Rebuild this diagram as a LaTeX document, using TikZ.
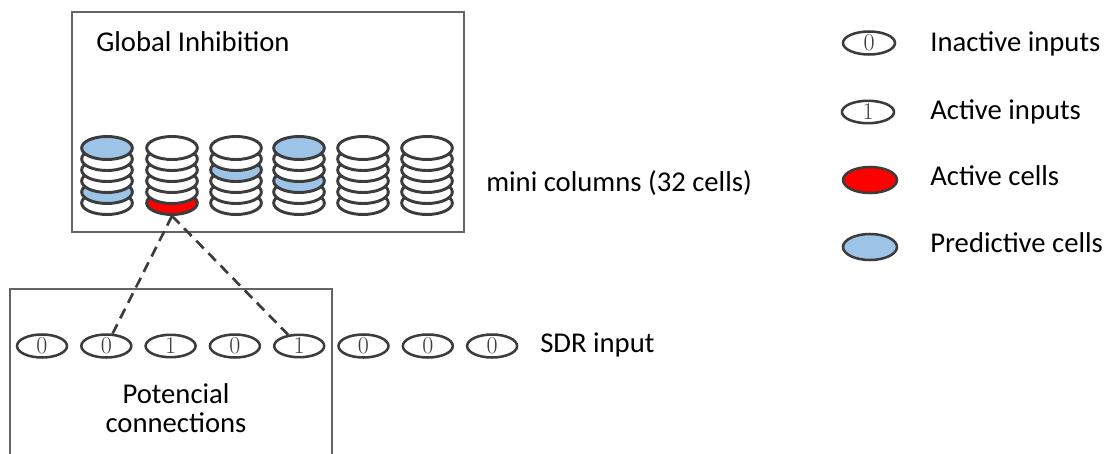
\documentclass[tikz,border=0pt]{standalone}
\usepackage{fontspec}
\newfontfamily\labelfont{Carlito}
\usetikzlibrary{shapes.geometric}

\definecolor{boxgray}{HTML}{646464}
\definecolor{inkgray}{HTML}{3C3C3C}
\colorlet{W}{white}
\definecolor{P}{HTML}{9DC3E6}
\definecolor{R}{HTML}{FF0000}

\tikzset{
  label text/.style={font=\labelfont\fontsize{21.5}{21.75}\selectfont, inner sep=0pt, text=black},
  frame/.style={draw=boxgray, line width=1.5pt},
  cell/.style={ellipse, draw=inkgray, line width=2.2pt, minimum width=38pt,
               minimum height=17.25pt, inner sep=0pt},
  bit/.style={ellipse, draw=inkgray, line width=1.9pt, minimum width=37.5pt,
              minimum height=15.75pt, inner sep=0pt,
              font=\fontsize{18}{18}\selectfont, text=inkgray},
  keybit/.style={bit, minimum width=39pt, minimum height=14.25pt},
  keycell/.style={ellipse, draw=inkgray, line width=1.9pt, minimum width=40.5pt,
                  minimum height=19.5pt, inner sep=0pt},
  link/.style={draw=inkgray, line width=2pt, dash pattern=on 8pt off 5pt}
}

\begin{document}
\begin{tikzpicture}[x=0.75pt, y=-0.75pt]
\useasboundingbox (0,0) rectangle (1112,453);

% upper frame: inhibition area
\draw[frame] (72,12) rectangle (464,232);
\node[label text, anchor=base west] (gi) at (96,52) {Global Inhibition};

% six mini columns, cells drawn from bottom (6) to top (1)
\foreach \c/\cx/\fills in {1/107/{W,P,W,W,W,P},
                           2/172/{R,W,W,W,W,W},
                           3/236/{W,W,W,P,W,W},
                           4/299/{W,W,P,W,W,P},
                           5/363/{W,W,W,W,W,W},
                           6/427/{W,W,W,W,W,W}}{
  \foreach \f [count=\i] in \fills {
    \pgfmathtruncatemacro\k{7-\i}
    \node[cell, fill=\f] (c-\c-\k) at (\cx, {148+11*(\k-1)}) {};
  }
}
\node[label text, anchor=base west] (mc) at (486,191) {mini columns (32 cells)};

% lower frame: potential connections (open at the bottom)
\draw[frame] (10,460) -- (10,289) -- (332,289) -- (332,460);
\node[label text, align=center, anchor=base] (pc) at (176,432) {Potencial\\connections};

% SDR input bits
\foreach \b [count=\j] in {0,0,1,0,1,0,0,0}{
  \node[bit] (s-\j) at ({42+64.3*(\j-1)}, 346) {\b};
}
\node[label text, anchor=base west] (sdr) at (540,352) {SDR input};

% synapses from the active cell to its inputs
\draw[link] (c-2-6.south) -- (s-2);
\draw[link] (c-2-6.south) -- (s-5);

% legend
\node[keybit] (k0) at (869,43) {0};
\node[keybit] (k1) at (868,112) {1};
\node[keycell, fill=R] (kr) at (870,180) {};
\node[keycell, fill=P] (kp) at (870,247) {};
\node[label text, anchor=base west] (t0) at (930,52) {Inactive inputs};
\node[label text, anchor=base west] (t1) at (930,119) {Active inputs};
\node[label text, anchor=base west] (tr) at (930,185) {Active cells};
\node[label text, anchor=base west] (tp) at (930,252) {Predictive cells};
\end{tikzpicture}
\end{document}
